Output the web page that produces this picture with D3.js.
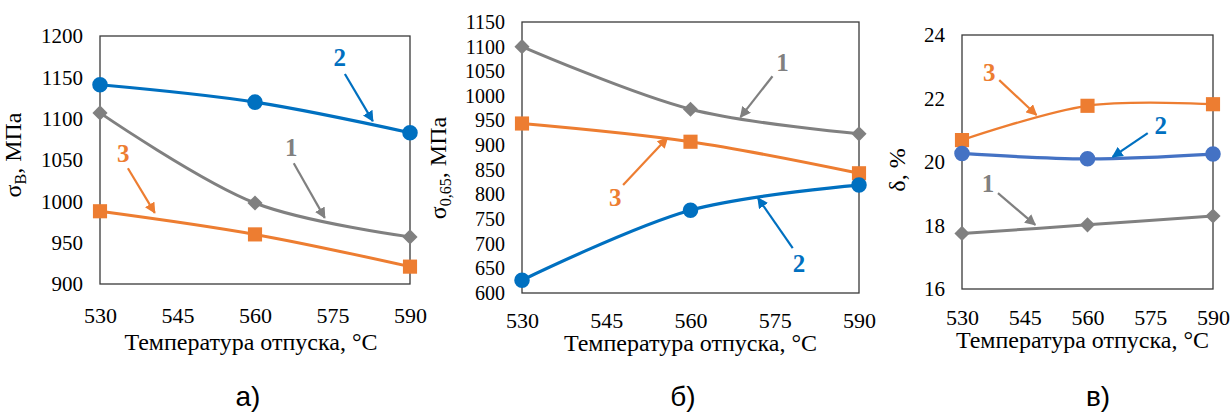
<!DOCTYPE html>
<html>
<head>
<meta charset="utf-8">
<script src="https://cdn.jsdelivr.net/npm/d3@7"></script>
<style>
  body { margin: 0; background: #fff; }
  text { font-family: "Liberation Serif", "Times New Roman", serif; fill: #000; }
</style>
</head>
<body>
<div id="chart"></div>
<script>
// temperatures (x)
const temps = [530, 560, 590];
const xTicks = [530, 545, 560, 575, 590];

// panel а) — σв, МПа
const aSeries1 = [1107, 998, 957];
const aSeries2 = [1141, 1120, 1083];
const aSeries3 = [988, 960, 921];
const aTicks = [900, 950, 1000, 1050, 1100, 1150, 1200];

// panel б) — σ0,65, МПа
const bSeries1 = [1100, 973, 923];
const bSeries2 = [626, 768, 819];
const bSeries3 = [944, 907, 843];
const bTicks = [600, 650, 700, 750, 800, 850, 900, 950, 1000, 1050, 1100, 1150];

// panel в) — δ, %
const cSeries1 = [17.75, 18.02, 18.3];
const cSeries2 = [20.27, 20.1, 20.25];
const cSeries3 = [20.69, 21.77, 21.82];
const cTicks = [16, 18, 20, 22, 24];

// annotation labels: [label, labelX, labelY, arrowX1, arrowY1, arrowX2, arrowY2] in data units
const aNotes = [["2", 576.4, 1174, 577.4, 1154, 582.8, 1097],
                ["1", 567, 1066, 567.5, 1046, 573.5, 980],
                ["3", 534.5, 1058, 535.4, 1040, 540.6, 986]];
const bNotes = [["1", 576.4, 1069, 574.6, 1040, 568.9, 957],
                ["3", 546.6, 795, 548, 819, 555.9, 915],
                ["2", 579.3, 661, 578.2, 691, 572, 793]];
const cNotes = [["3", 536.5, 22.83, 538.9, 22.58, 547.8, 21.48],
                ["2", 577.5, 21.17, 574.4, 20.91, 566, 20.16],
                ["1", 536.2, 19.34, 538.6, 19.02, 547.5, 18.02]];

const width = 1232, height = 414;
const gray = "#808080", orange = "#ED7D31", blue = "#0070C0";
const serif = "'Liberation Serif', 'Times New Roman', serif";

const svg = d3.select("#chart").append("svg")
  .attr("width", width).attr("height", height);

const defs = svg.append("defs");
[["gray", gray], ["orange", orange], ["blue", blue]].forEach(([k, c]) => {
  defs.append("marker")
    .attr("id", "arr-" + k)
    .attr("viewBox", "0 0 10 10")
    .attr("refX", 9).attr("refY", 5)
    .attr("markerWidth", 5).attr("markerHeight", 5)
    .attr("markerUnits", "strokeWidth")
    .attr("orient", "auto")
    .append("path").attr("d", "M0,0 L10,5 L0,10 z").attr("fill", c);
});

function drawPanel(p) {
  const x = d3.scaleLinear().domain([530, 590]).range([p.left, p.right]);
  const y = d3.scaleLinear().domain(p.yDomain).range([p.bottom, p.top]);
  const g = svg.append("g");

  // y tick labels
  g.append("g")
    .attr("transform", `translate(${p.left - 17},0)`)
    .call(d3.axisLeft(y).tickValues(p.yTicks).tickFormat(d3.format("d")).tickSize(0).tickPadding(0))
    .call(s => s.select(".domain").remove())
    .selectAll("text")
    .style("font-family", serif)
    .style("font-size", p.tickSize + "px")
    .style("fill", "#000");

  // x tick labels
  g.append("g")
    .attr("transform", `translate(0,${p.bottom + p.xTickGap})`)
    .call(d3.axisBottom(x).tickValues(xTicks).tickFormat(d3.format("d")).tickSize(0).tickPadding(0))
    .call(s => s.select(".domain").remove())
    .selectAll("text")
    .style("font-family", serif)
    .style("font-size", "22px")
    .attr("dy", "0.35em")
    .style("fill", "#000");

  // frame
  g.append("rect")
    .attr("x", p.left).attr("y", p.top)
    .attr("width", p.right - p.left).attr("height", p.bottom - p.top)
    .attr("fill", "none").attr("stroke", "#3a3a3a").attr("stroke-width", 1.3);

  // lines and markers
  p.series.forEach(s => {
    const line = d3.line()
      .x((d, i) => x(temps[i]))
      .y(d => y(d))
      .curve(d3.curveCatmullRom.alpha(0.5));
    g.append("path")
      .datum(s.values)
      .attr("d", line)
      .attr("fill", "none")
      .attr("stroke", s.color)
      .attr("stroke-width", s.lw);

    const sym = s.shape === "circle" ? d3.symbolCircle : d3.symbolSquare;
    g.selectAll(null)
      .data(s.values)
      .join("path")
      .attr("transform", (d, i) => `translate(${x(temps[i])},${y(d)})${s.shape === "diamond" ? " rotate(45)" : ""}`)
      .attr("d", d3.symbol(sym, s.msize))
      .attr("fill", s.color);
  });

  // annotations
  const noteColor = { "1": ["gray", gray], "2": ["blue", blue], "3": ["orange", orange] };
  p.notes.forEach(n => {
    const [key, c] = noteColor[n[0]];
    g.append("line")
      .attr("x1", x(n[3])).attr("y1", y(n[4]))
      .attr("x2", x(n[5])).attr("y2", y(n[6]))
      .attr("stroke", c).attr("stroke-width", 2.2)
      .attr("marker-end", `url(#arr-${key})`);
    g.append("text")
      .attr("x", x(n[1])).attr("y", y(n[2]))
      .attr("text-anchor", "middle").attr("dy", "0.35em")
      .style("font-size", "25px").style("font-weight", "bold")
      .style("fill", c)
      .text(n[0]);
  });

  // x title
  g.append("text")
    .attr("x", (p.left + p.right) / 2 + p.titleShift)
    .attr("y", p.titleY).attr("dy", "0.35em")
    .attr("text-anchor", "middle").style("font-size", "24px")
    .text("Температура отпуска, °C");

  // y title
  const yt = g.append("text")
    .attr("transform", `translate(${p.yTitleX},${p.yTitleY}) rotate(-90)`)
    .attr("text-anchor", "middle").style("font-size", "24px");
  p.yTitle(yt);

  // panel letter
  g.append("text")
    .attr("x", p.letterX).attr("y", 406)
    .attr("text-anchor", "middle")
    .style("font-family", "'Liberation Sans', sans-serif")
    .style("font-size", "28px")
    .text(p.letter);
}

drawPanel({
  left: 100, right: 410, top: 36, bottom: 284,
  yDomain: [900, 1200], yTicks: aTicks, tickSize: 21, xTickGap: 31,
  titleY: 342, titleShift: -4, yTitleX: 21, yTitleY: 155,
  yTitle: t => {
    t.append("tspan").text("σ");
    t.append("tspan").style("font-size", "16px").attr("dy", 5).text("В");
    t.append("tspan").attr("dy", -5).text(", МПа");
  },
  letter: "а)", letterX: 248,
  series: [
    { values: aSeries1, color: gray, lw: 3, shape: "diamond", msize: 115 },
    { values: aSeries3, color: orange, lw: 3, shape: "square", msize: 200 },
    { values: aSeries2, color: blue, lw: 3.2, shape: "circle", msize: 190 }
  ],
  notes: aNotes
});

drawPanel({
  left: 522, right: 859, top: 22, bottom: 293,
  yDomain: [600, 1150], yTicks: bTicks, tickSize: 20, xTickGap: 27,
  titleY: 343, titleShift: 0, yTitleX: 446, yTitleY: 168,
  yTitle: t => {
    t.append("tspan").text("σ");
    t.append("tspan").style("font-size", "16px").attr("dy", 5).text("0,65");
    t.append("tspan").attr("dy", -5).text(", МПа");
  },
  letter: "б)", letterX: 683,
  series: [
    { values: bSeries1, color: gray, lw: 3, shape: "diamond", msize: 115 },
    { values: bSeries3, color: orange, lw: 3, shape: "square", msize: 200 },
    { values: bSeries2, color: blue, lw: 3.2, shape: "circle", msize: 190 }
  ],
  notes: bNotes
});

drawPanel({
  left: 962, right: 1213, top: 35, bottom: 289,
  yDomain: [16, 24], yTicks: cTicks, tickSize: 21, xTickGap: 28,
  titleY: 340, titleShift: -5, yTitleX: 905, yTitleY: 170,
  yTitle: t => { t.text("δ, %"); },
  letter: "в)", letterX: 1098,
  series: [
    { values: cSeries1, color: gray, lw: 3, shape: "diamond", msize: 115 },
    { values: cSeries3, color: orange, lw: 2.2, shape: "square", msize: 200 },
    { values: cSeries2, color: "#4472C4", lw: 3.2, shape: "circle", msize: 190 }
  ],
  notes: cNotes
});
</script>
</body>
</html>
